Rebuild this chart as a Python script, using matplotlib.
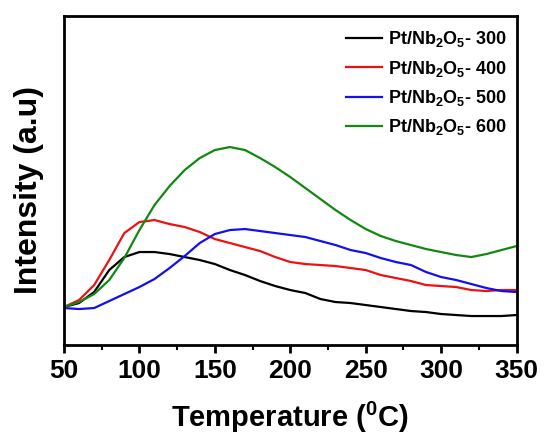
import numpy as np
import matplotlib
matplotlib.use('Agg')
import matplotlib.pyplot as plt

plt.rcParams['font.family'] = ['Liberation Sans', 'DejaVu Sans']
plt.rcParams['font.weight'] = 'bold'
plt.rcParams['mathtext.fontset'] = 'custom'
plt.rcParams['mathtext.rm'] = 'Liberation Sans:bold'
plt.rcParams['mathtext.it'] = 'Liberation Sans:bold'
plt.rcParams['mathtext.bf'] = 'Liberation Sans:bold'

# temperature grid (deg C)
temp = np.arange(50, 351, 10)

# intensities (a.u.)
pt300 = [38, 42, 53, 75, 88, 93, 93, 91, 88, 85, 81, 75, 70, 64, 59, 55,
         52, 46, 43, 42, 40, 38, 36, 34, 33, 31, 30, 29, 29, 29, 30]
pt400 = [38, 45, 60, 85, 112, 123, 125, 121, 118, 113, 106, 102, 98, 94, 88, 83,
         81, 80, 79, 77, 75, 70, 67, 64, 60, 59, 58, 55, 54, 55, 55]
pt500 = [37, 36, 37, 44, 51, 58, 66, 77, 89, 102, 111, 115, 116, 114, 112, 110,
         108, 104, 100, 95, 92, 87, 83, 80, 73, 68, 65, 61, 57, 54, 53]
pt600 = [38, 43, 51, 65, 87, 115, 140, 159, 175, 187, 195, 198, 195, 187, 178, 168,
         157, 146, 135, 125, 116, 109, 104, 100, 96, 93, 90, 88, 91, 95, 99]

labels = ['Pt/Nb$_2$O$_5$- 300', 'Pt/Nb$_2$O$_5$- 400',
          'Pt/Nb$_2$O$_5$- 500', 'Pt/Nb$_2$O$_5$- 600']
colors = ['#000000', '#ee1111', '#1111ee', '#118811']

fig = plt.figure(figsize=(5.44, 4.34), dpi=100)
ax = fig.add_axes([0.1176, 0.205, 0.832, 0.758])

for y, lab, c in zip([pt300, pt400, pt500, pt600], labels, colors):
    ax.plot(temp, y, color=c, lw=1.6, label=lab)

ax.set_xlim(50, 350)
ax.set_ylim(0, 329)
ax.set_xticks(np.arange(50, 351, 50))
ax.set_xticks(np.arange(75, 350, 50), minor=True)
ax.set_yticks([])
ax.tick_params(axis='x', which='major', direction='out', length=6, width=2,
               labelsize=19, pad=4)
ax.tick_params(axis='x', which='minor', direction='out', length=3.5, width=1.5)
for sp in ax.spines.values():
    sp.set_linewidth(2)

ax.set_xlabel('Temperature ($^0$C)', fontsize=21, fontweight='bold', labelpad=12)
ax.set_ylabel('Intensity (a.u)', fontsize=23, fontweight='bold')
ax.yaxis.set_label_coords(-0.045, 0.47)

leg = ax.legend(loc='upper right', bbox_to_anchor=(1.0, 0.99), frameon=False,
                fontsize=13, handlelength=2.0, handletextpad=0.3,
                labelspacing=0.52, borderaxespad=0.15)

fig.savefig('out.png', dpi=100)
